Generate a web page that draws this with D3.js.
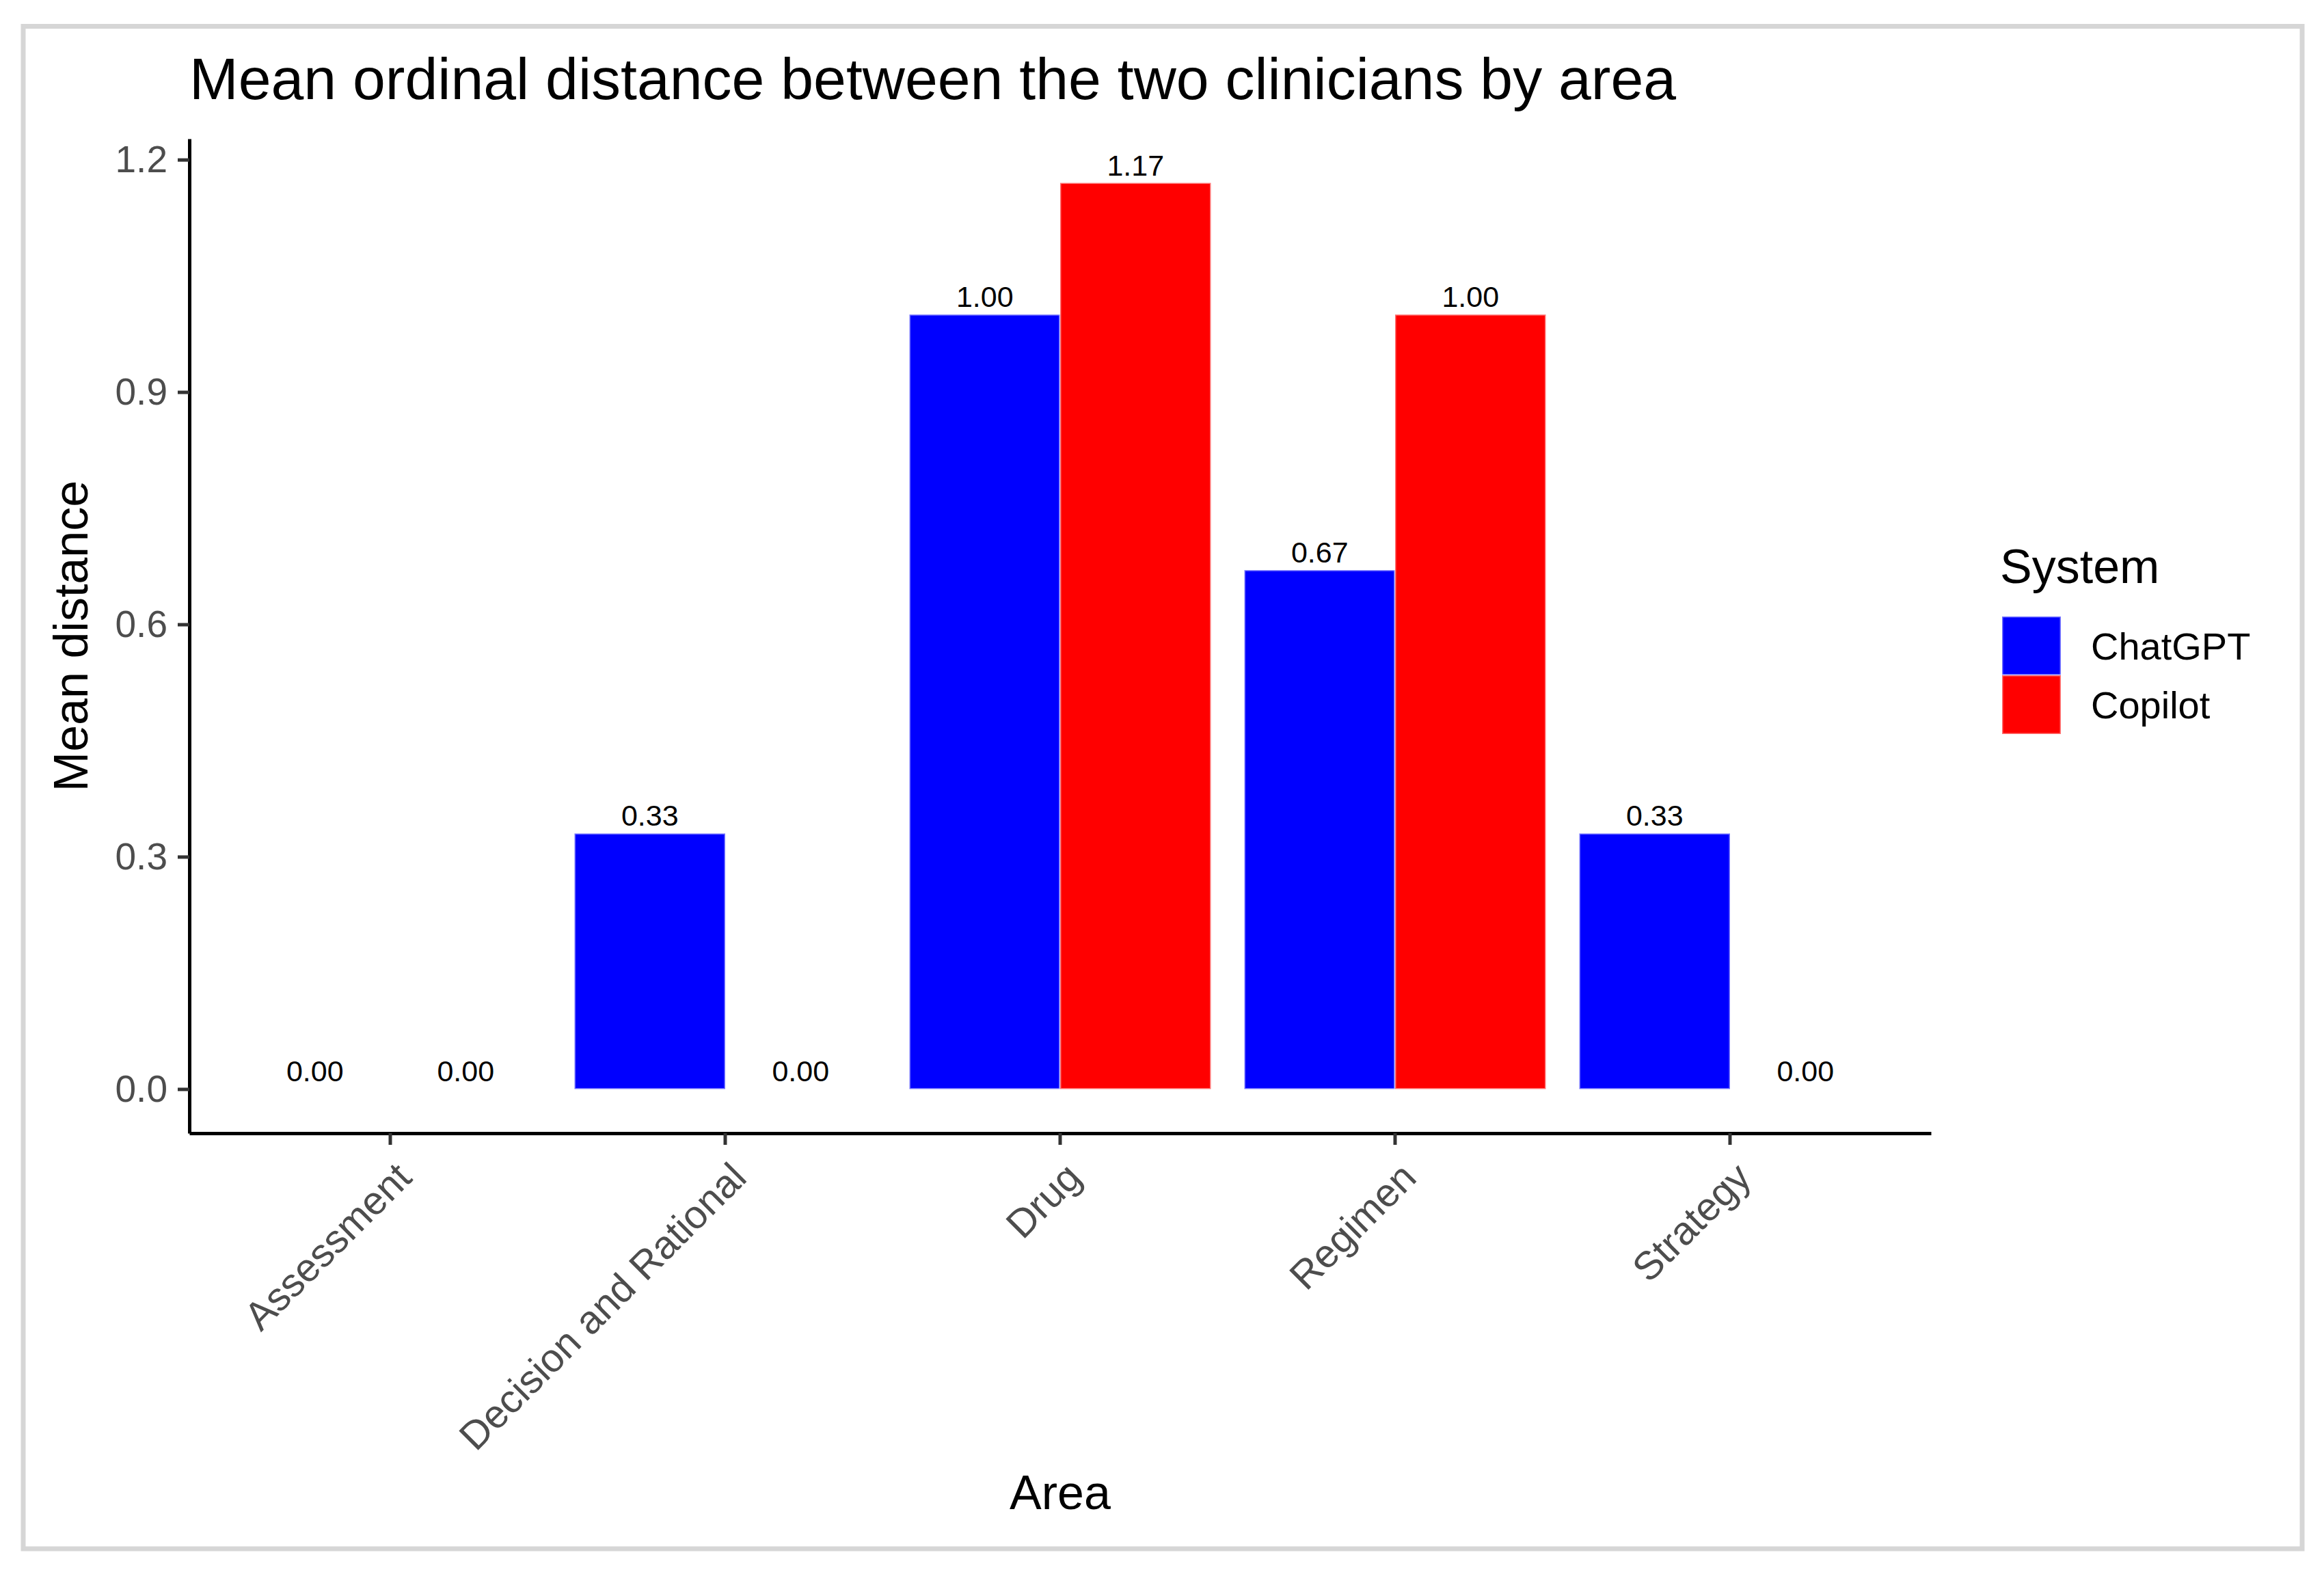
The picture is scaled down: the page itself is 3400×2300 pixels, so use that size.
<!DOCTYPE html>
<html>
<head>
<meta charset="utf-8">
<script src="https://cdn.jsdelivr.net/npm/d3@7"></script>
<style>
    body { margin: 0; background: #fff; }
    text { font-family: "Liberation Sans", Arial, sans-serif; }
</style>
</head>
<body>
<div id="chart"></div>
<script>
// data
const areas = ['Assessment', 'Decision and Rational', 'Drug', 'Regimen', 'Strategy'];
const systems = ['ChatGPT', 'Copilot'];
const chatgptValues = [0.00, 0.33, 1.00, 0.67, 0.33];
const copilotValues = [0.00, 0.00, 1.17, 1.00, 0.00];
const yTickValues = [0.0, 0.3, 0.6, 0.9, 1.2];
const colors = ['#0000ff', '#ff0000'];

const width = 3400;
const height = 2300;
const panel = { left: 277, right: 2825, top: 203, bottom: 1658 };
const tickLen = 17;

const rows = [];
areas.forEach((area, i) => {
    rows.push({ area, system: systems[0], value: chatgptValues[i] });
    rows.push({ area, system: systems[1], value: copilotValues[i] });
});

const svg = d3
    .select('#chart')
    .append('svg')
    .attr('width', width)
    .attr('height', height);

// outer frame
svg.append('rect')
    .attr('x', 34)
    .attr('y', 38.5)
    .attr('width', 3334)
    .attr('height', 2227.5)
    .attr('fill', '#fff')
    .attr('stroke', '#d6d6d6')
    .attr('stroke-width', 7);

// scales (ggplot style: 0.6 unit expansion on discrete x)
const xScale = d3
    .scaleBand()
    .domain(areas)
    .range([panel.left, panel.right])
    .paddingInner(0.1)
    .paddingOuter(0.15);

const xSub = d3
    .scaleBand()
    .domain(systems)
    .range([0, xScale.bandwidth()]);

const yScale = d3
    .scaleLinear()
    .domain([-0.057, 1.227])
    .range([panel.bottom, panel.top]);

const color = d3.scaleOrdinal().domain(systems).range(colors);

// bars
svg.append('g')
    .selectAll('rect')
    .data(rows.filter(d => d.value > 0))
    .join('rect')
    .attr('x', d => xScale(d.area) + xSub(d.system))
    .attr('y', d => yScale(d.value))
    .attr('width', xSub.bandwidth())
    .attr('height', d => yScale(0) - yScale(d.value))
    .attr('fill', d => color(d.system))
    .attr('stroke', '#fff')
    .attr('stroke-opacity', 0.45)
    .attr('stroke-width', 3);

// value labels
svg.append('g')
    .selectAll('text')
    .data(rows)
    .join('text')
    .attr('x', d => xScale(d.area) + xSub(d.system) + xSub.bandwidth() / 2)
    .attr('y', d => yScale(d.value) - 11)
    .attr('text-anchor', 'middle')
    .style('font-size', '43px')
    .style('fill', '#000')
    .text(d => d3.format('.2f')(d.value));

// y axis
const yAxis = svg.append('g')
    .attr('transform', `translate(${panel.left}, 0)`)
    .call(d3.axisLeft(yScale)
        .tickValues(yTickValues)
        .tickFormat(d3.format('.1f'))
        .tickSize(tickLen)
        .tickSizeOuter(0)
        .tickPadding(15));

// x axis
const xAxis = svg.append('g')
    .attr('transform', `translate(0, ${panel.bottom})`)
    .call(d3.axisBottom(xScale)
        .tickSize(tickLen)
        .tickSizeOuter(0));

[xAxis, yAxis].forEach(axis => {
    axis.select('.domain').attr('stroke', '#000').attr('stroke-width', 5);
    axis.selectAll('.tick line').attr('stroke', '#333').attr('stroke-width', 5);
    axis.selectAll('.tick text')
        .style('font-size', '55px')
        .style('fill', '#4d4d4d')
        .style('font-family', '"Liberation Sans", Arial, sans-serif');
});

// rotated category labels, right end at the tick
xAxis.selectAll('.tick text')
    .attr('x', 0)
    .attr('y', 0)
    .attr('dy', '0.71em')
    .attr('text-anchor', 'end')
    .attr('transform', `translate(5, ${tickLen + 22}) rotate(-45)`)
    .style('font-size', '58px');

// titles
svg.append('text')
    .attr('x', panel.left)
    .attr('y', 145)
    .style('font-size', '86px')
    .style('fill', '#000')
    .text('Mean ordinal distance between the two clinicians by area');

svg.append('text')
    .attr('text-anchor', 'middle')
    .attr('transform', `translate(128, ${(panel.top + panel.bottom) / 2}) rotate(-90)`)
    .style('font-size', '70px')
    .style('fill', '#000')
    .text('Mean distance');

svg.append('text')
    .attr('x', (panel.left + panel.right) / 2)
    .attr('y', 2208)
    .attr('text-anchor', 'middle')
    .style('font-size', '70px')
    .style('fill', '#000')
    .text('Area');

// legend
const legend = svg.append('g').attr('transform', 'translate(2929, 0)');

legend.append('text')
    .attr('x', -3)
    .attr('y', 853)
    .style('font-size', '70px')
    .style('fill', '#000')
    .text('System');

const keySize = 86;
const legendItems = legend.selectAll('g.item')
    .data(systems)
    .join('g')
    .attr('class', 'item')
    .attr('transform', (d, i) => `translate(0, ${902 + i * keySize})`);

legendItems.append('rect')
    .attr('width', keySize)
    .attr('height', keySize)
    .attr('fill', d => color(d))
    .attr('stroke', '#fff')
    .attr('stroke-opacity', 0.45)
    .attr('stroke-width', 3);

legendItems.append('text')
    .attr('x', 130)
    .attr('y', keySize / 2 + 20)
    .style('font-size', '56px')
    .style('fill', '#000')
    .text(d => d);
</script>
</body>
</html>
